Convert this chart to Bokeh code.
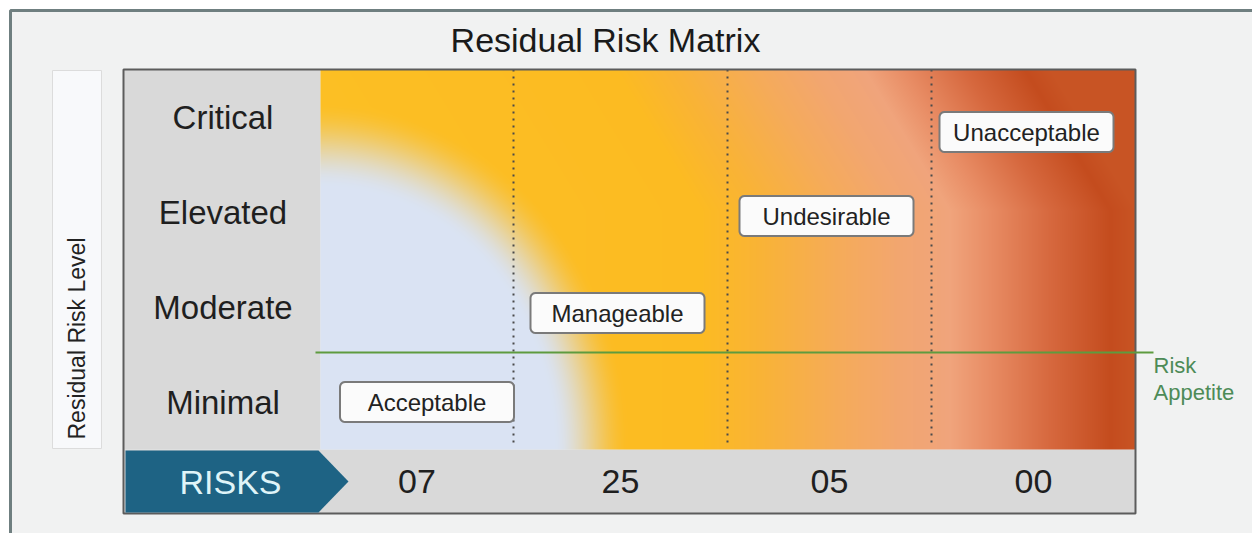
import numpy as np
from bokeh.plotting import figure
from bokeh.models import Range1d
from bokeh.core.properties import value
from bokeh.embed import file_html
from bokeh.resources import INLINE

# ---------------- data ----------------
chart_title = "Residual Risk Matrix"
level_axis_title = "Residual Risk Level"
risk_levels = ["Minimal", "Moderate", "Elevated", "Critical"]          # bottom -> top
zone_names = ["Acceptable", "Manageable", "Undesirable", "Unacceptable"]  # left -> right
zone_level = [0, 1, 2, 3]                 # row (index in risk_levels) holding each zone tag
risk_counts = ["07", "25", "05", "00"]    # risks per zone
count_header = "RISKS"
appetite_text = ["Risk", "Appetite"]
appetite_level = 1.0                      # risk appetite sits on top of "Minimal"

# ---------------- layout (pixels) ----------------
W, H = 1252, 533
FONT = "Liberation Sans"
MX0, MX1 = 123, 1135          # matrix outer box
LAB_X1 = 320                  # end of row-label column
TOP, ROW_BOT, BOT = 69, 449, 513
col_edges = [320, 513, 727, 931, 1135]
ROW_H = (ROW_BOT - TOP) / len(risk_levels)
tag_dx = [10, -3, -3, -7]
tag_dy = [0, 6, 4, 15]
TAG_W, TAG_H = 174, 40


def Y(py):
    return H - py


def row_center(i):
    return ROW_BOT - ROW_H * (i + 0.5)


def col_center(j):
    return (col_edges[j] + col_edges[j + 1]) / 2


p = figure(width=W, height=H, x_range=Range1d(0, W), y_range=Range1d(0, H),
           output_backend="svg", toolbar_location=None, min_border=0,
           background_fill_color="white", border_fill_color="white")
p.axis.visible = False
p.grid.visible = False
p.outline_line_color = None

# outer frame
p.quad(left=[10], right=[W + 20], top=[Y(10)], bottom=[Y(H + 20)],
       fill_color="#f1f2f2", line_color="#6f7f80", line_width=3)

# title
p.text(x=[605], y=[Y(39)], text=[chart_title], text_font=value(FONT),
       text_font_size="34px", text_align="center", text_baseline="middle", text_color="#1a1a1a")

# y-axis label box
p.quad(left=[52], right=[101], top=[Y(70)], bottom=[Y(448)],
       fill_color="#f8f9fb", line_color="#dcdcdc", line_width=1)
p.text(x=[76], y=[Y(338)], text=[level_axis_title], angle=np.pi / 2, text_font=value(FONT),
       text_font_size="23px", text_align="center", text_baseline="middle", text_color="#222222")

# grey panels
p.quad(left=[MX0], right=[LAB_X1], top=[Y(TOP)], bottom=[Y(ROW_BOT)],
       fill_color="#d9d9d9", line_color=None)
p.quad(left=[MX0], right=[MX1], top=[Y(ROW_BOT)], bottom=[Y(BOT)],
       fill_color="#d9d9d9", line_color=None)

# gradient background of the matrix
gw, gh = col_edges[-1] - col_edges[0], ROW_BOT - TOP
gx = col_edges[0] + np.arange(gw) + 0.5
gy = ROW_BOT - (np.arange(gh) + 0.5)
PX, PY = np.meshgrid(gx, gy)
xe = PX + 85 * np.clip((210 - PY) / 140, 0, 1)
stop_x = [320, 700, 760, 840, 900, 950, 990, 1050, 1110, 1135]
stop_c = np.array([
    (252, 192, 36), (252, 187, 34), (249, 179, 54), (245, 171, 90), (242, 166, 112),
    (240, 164, 124), (232, 140, 100), (214, 104, 62), (196, 76, 30), (200, 84, 36)], float)
rgb = np.stack([np.interp(xe, stop_x, stop_c[:, k]) for k in range(3)], -1)
dd = np.sqrt(((PX - col_edges[0]) / 240) ** 2 + ((ROW_BOT - PY) / 270) ** 2)
t = np.clip((dd - 0.97) / 0.32, 0, 1)
t = t * t * (3 - 2 * t)
blue = np.array([218, 227, 243], float)
rgb = blue * (1 - t[..., None]) + rgb * t[..., None]
rgba = np.empty((gh, gw, 4), dtype=np.uint8)
rgba[..., :3] = np.round(rgb).astype(np.uint8)
rgba[..., 3] = 255
img = rgba.view(np.uint32).reshape(gh, gw)
p.image_rgba(image=[img], x=col_edges[0], y=Y(ROW_BOT), dw=gw, dh=gh)

# column dividers
p.segment(x0=col_edges[1:-1], x1=col_edges[1:-1], y0=[Y(TOP)] * 3, y1=[Y(ROW_BOT - 4)] * 3,
          line_color="#4a4a4a", line_width=2, line_dash="2 5")

# matrix border
p.quad(left=[MX0], right=[MX1], top=[Y(TOP)], bottom=[Y(BOT)],
       fill_color=None, line_color="#5c5c5c", line_width=2)

# risk appetite line
ya = Y(ROW_BOT - appetite_level * ROW_H - 2)
p.segment(x0=[LAB_X1 - 5], x1=[1153], y0=[ya], y1=[ya], line_color="#5e9b3f", line_width=2)
p.text(x=[1153, 1153], y=[Y(365), Y(392)], text=appetite_text, text_font=value(FONT),
       text_font_size="22px", text_align="left", text_baseline="middle", text_color="#4d8b57")

# row labels
p.text(x=[(MX0 + LAB_X1) / 2 + 1] * len(risk_levels),
       y=[Y(row_center(i)) for i in range(len(risk_levels))], text=risk_levels,
       text_font=value(FONT), text_font_size="33px", text_align="center",
       text_baseline="middle", text_color="#1f1f1f")


# zone tags (rounded boxes)
def rounded(cx, cy, w, h, r=5, n=6):
    xs, ys = [], []
    corners = [(cx + w / 2 - r, cy + h / 2 - r, 0), (cx - w / 2 + r, cy + h / 2 - r, 90),
               (cx - w / 2 + r, cy - h / 2 + r, 180), (cx + w / 2 - r, cy - h / 2 + r, 270)]
    for ox, oy, a0 in corners:
        for a in np.linspace(a0, a0 + 90, n):
            xs.append(ox + r * np.cos(np.radians(a)))
            ys.append(oy + r * np.sin(np.radians(a)))
    return xs, ys


tx = [col_center(j) + tag_dx[j] for j in range(len(zone_names))]
ty = [Y(row_center(zone_level[j]) + tag_dy[j]) for j in range(len(zone_names))]
bx, by = [], []
for cx, cy in zip(tx, ty):
    a, b = rounded(cx, cy, TAG_W, TAG_H)
    bx.append(a)
    by.append(b)
p.patches(bx, by, fill_color="#fbfbfb", line_color="#7a7a7a", line_width=2)
p.text(x=tx, y=ty, text=zone_names, text_font=value(FONT), text_font_size="24px",
       text_align="center", text_baseline="middle", text_color="#222222")

# RISKS arrow and counts
p.patch(x=[125, 318, 348, 318, 125], y=[Y(450), Y(450), Y(481), Y(512), Y(512)],
        fill_color="#1e6384", line_color=None)
p.text(x=[230], y=[Y(481)], text=[count_header], text_font=value(FONT), text_font_size="34px",
       text_align="center", text_baseline="middle", text_color="#dff4f8")
p.text(x=[col_center(j) for j in range(len(risk_counts))], y=[Y(481)] * len(risk_counts),
       text=risk_counts, text_font=value(FONT), text_font_size="34px", text_align="center",
       text_baseline="middle", text_color="#1f1f1f")

open("out.html", "w").write(file_html(p, INLINE))
